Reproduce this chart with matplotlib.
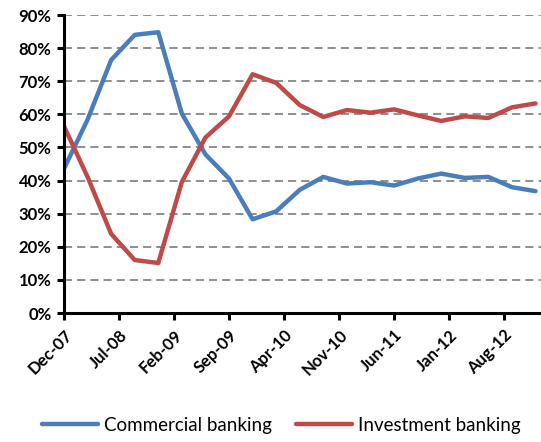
import matplotlib.pyplot as plt
import numpy as np

# quarterly observations, Dec-07 .. Dec-12 (months since Dec-07)
months = np.arange(0, 61, 3)
commercial = [43.6, 58.4, 76.4, 84.0, 84.8, 60.2, 47.9, 40.6, 28.3, 30.7, 37.2,
              41.1, 39.1, 39.5, 38.5, 40.6, 42.1, 40.8, 41.1, 38.0, 36.8]
investment = [56.4, 41.1, 23.9, 16.0, 15.1, 39.6, 53.0, 59.4, 72.1, 69.5, 62.8,
              59.2, 61.3, 60.5, 61.5, 59.7, 58.0, 59.4, 58.9, 62.1, 63.3]

tick_months = np.arange(0, 57, 7)
tick_labels = ["Dec-07", "Jul-08", "Feb-09", "Sep-09", "Apr-10",
               "Nov-10", "Jun-11", "Jan-12", "Aug-12"]
y_ticks = np.arange(0, 91, 10)

plt.rcParams["font.family"] = ["Lato", "DejaVu Sans"]

fig = plt.figure(figsize=(5.41, 4.42), dpi=100)
ax = fig.add_axes([64 / 541, 1 - 313 / 442, 477 / 541, 298 / 442])

ax.plot(months, commercial, color="#4A7EBB", lw=3.2, label="Commercial banking",
        solid_joinstyle="round", solid_capstyle="round")
ax.plot(months, investment, color="#BE4B48", lw=3.2, label="Investment banking",
        solid_joinstyle="round", solid_capstyle="round")

ax.set_xlim(0, 60.7)
ax.set_ylim(0, 90)
ax.set_yticks(y_ticks)
ax.set_yticklabels([f"{v}%" for v in y_ticks], fontsize=12, fontweight="bold")
ax.set_xticks(tick_months)
ax.set_xticklabels(tick_labels, rotation=45, ha="right", rotation_mode="anchor",
                   fontsize=12, fontweight="bold")

for v in y_ticks[1:]:
    ax.axhline(v, color="#868686", lw=1.3, ls=(0, (4.5, 2.8)), zorder=0)

for side in ["top", "right"]:
    ax.spines[side].set_visible(False)
for side in ["left", "bottom"]:
    ax.spines[side].set_linewidth(2.2)
ax.tick_params(axis="both", direction="out", length=5, width=2.2, pad=4)
ax.tick_params(axis="x", pad=5)

fig.legend(loc="center", bbox_to_anchor=(0.52, 0.038), ncol=2, frameon=False,
           fontsize=13.5, handlelength=3.0, handletextpad=0.3, columnspacing=1.3)

fig.savefig("out.png", dpi=100)
